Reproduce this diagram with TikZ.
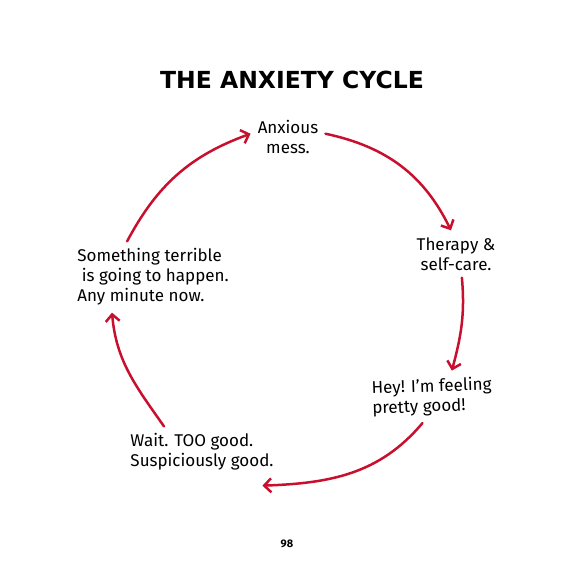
\documentclass[tikz,border=0pt]{standalone}
\usepackage{fontspec}
\setmainfont{Fira Sans}
\newfontfamily\titlefont{DejaVu Sans}
\usepackage{tikz}
\usetikzlibrary{arrows.meta,positioning}
\definecolor{cyclered}{RGB}{200,16,46}

\begin{document}
\begin{tikzpicture}[x=1pt, y=1pt,
    step text/.style={inner sep=7pt, font=\fontsize{17}{20}\selectfont},
    cyc/.style={draw=cyclered, line width=2.5pt, line cap=round,
        -{Straight Barb[length=7pt, width=14pt, line width=2.5pt]}}]
    \useasboundingbox (0, 0) rectangle (570, 571);

    \node[font=\titlefont\bfseries\fontsize{23.5}{28}\selectfont] (title) at (292, 491) {THE ANXIETY CYCLE};

    \node[step text, align=center] (mess) at (288, 434) {Anxious\\mess.};
    \node[step text, align=center] (care) at (456, 317) {Therapy \&\\self-care.};
    \node[step text, align=left, rotate=2] (good) at (432, 174) {Hey! I’m feeling\\pretty good!};
    \node[step text, align=left] (wait) at (202, 119) {Wait. TOO good.\\Suspiciously good.};
    \node[step text, align=left] (doom) at (153, 294) {Something terrible\\\ is going to happen.\\Any minute now.};

    \node[font=\bfseries\fontsize{11}{13}\selectfont] (page) at (287, 27) {98};

    % Cycle arrows
    \draw[cyc] (doom.126) to[out=62, in=200] (mess.175);
    \draw[cyc] (mess.5) to[out=-12, in=116] (care.102);
    \draw[cyc] (care.-76) to[out=-85, in=75] (good.51);
    \draw[cyc] (good.-112) to[out=-130, in=2] ([yshift=-8pt]wait.-23);
    \draw[cyc] (wait.146) to[out=125, in=-85] (doom.221);
\end{tikzpicture}
\end{document}
